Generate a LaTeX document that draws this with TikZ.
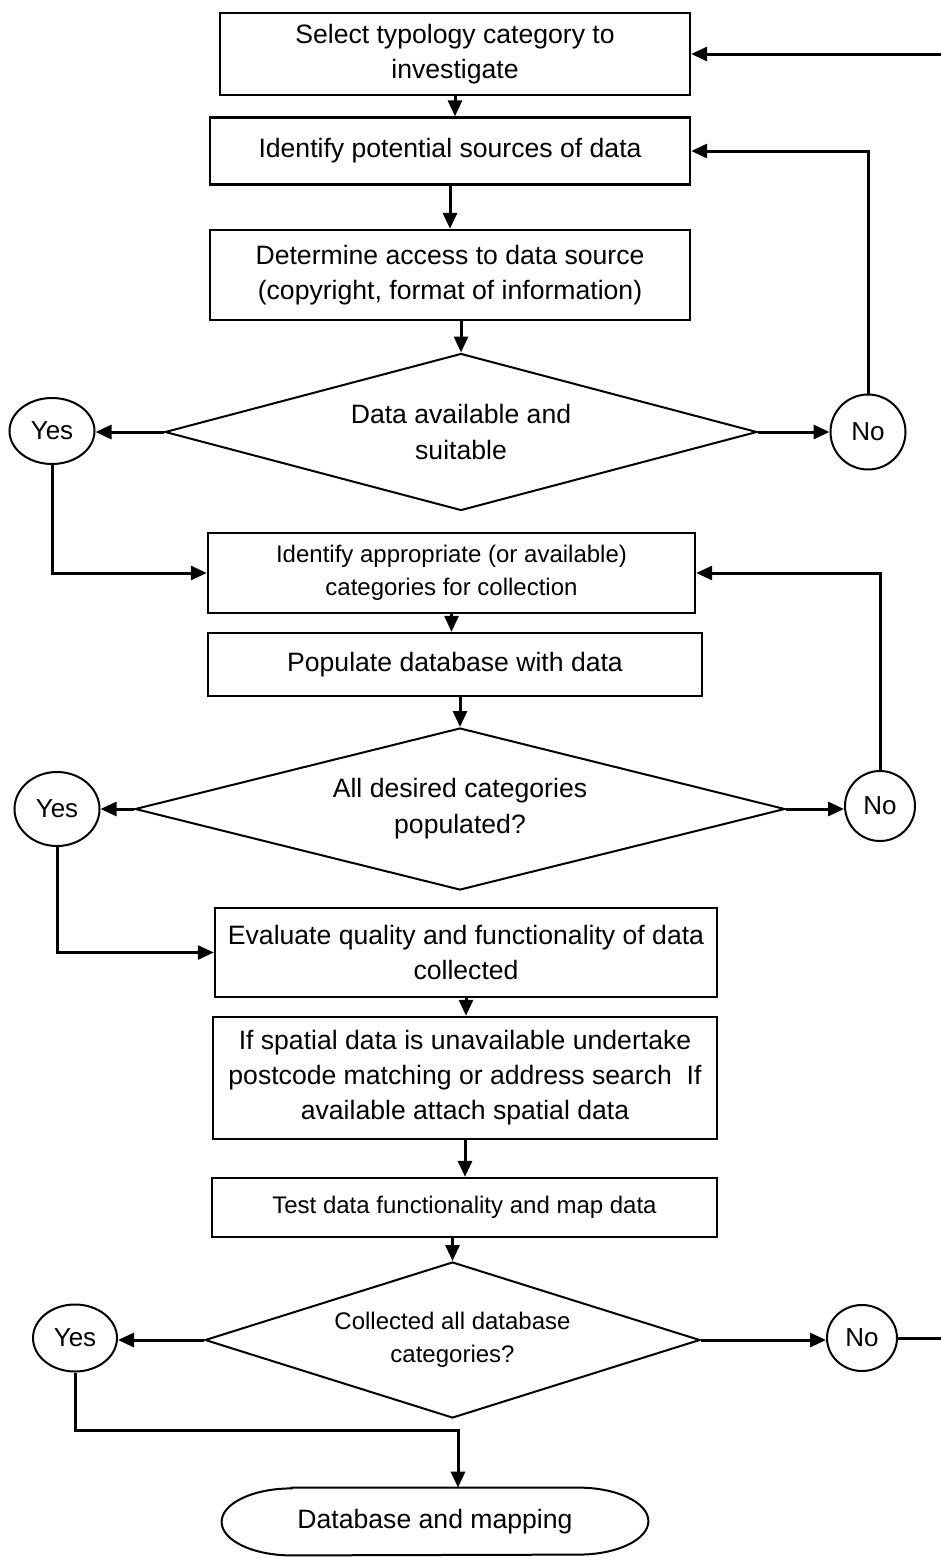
\documentclass[tikz,border=0pt]{standalone}
\usepackage{fontspec}
\setmainfont{Liberation Sans}
\usepackage{tikz}
\usetikzlibrary{arrows.meta, positioning, shapes.geometric}

\begin{document}
\begin{tikzpicture}[
    procbox/.style={shape=rectangle, draw, line width=1.2pt, inner sep=2pt, align=center, font=\fontsize{13.3}{17.5}\selectfont},
    smalltext/.style={font=\fontsize{12}{16.5}\selectfont},
    choice/.style={shape=diamond, draw, line width=1pt, inner sep=0pt, align=center, font=\fontsize{13.3}{18}\selectfont},
    reply/.style={shape=ellipse, draw, line width=1pt, inner sep=0pt, font=\fontsize{13}{15}\selectfont},
    flow/.style={draw, line width=1.5pt, -{Triangle[length=8pt, width=7pt]}}]

    \useasboundingbox (0pt, 0pt) rectangle (470.5pt, -779pt);
    \clip (0pt, 0pt) rectangle (470.5pt, -779pt);

    \node at (227.5pt, -27pt) (S1) [procbox, minimum width=235pt, minimum height=41pt] {Select typology category to\\investigate};
    \node at (225pt, -75.5pt) (S2) [procbox, minimum width=240pt, minimum height=33.5pt] {Identify potential sources of data};
    \node at (225pt, -137.5pt) (S3) [procbox, minimum width=240pt, minimum height=45pt] {Determine access to data source\\(copyright, format of information)};

    \node at (230.5pt, -216pt) (D1) [choice, aspect=3.8, minimum width=296pt, minimum height=78.5pt] {Data available and\\suitable};
    \node at (26pt, -215.5pt) (Y1) [reply, minimum width=42.5pt, minimum height=33pt] {Yes};
    \node at (434pt, -216pt) (N1) [reply, minimum width=37.5pt, minimum height=37.5pt] {No};

    \node at (225.75pt, -286.5pt) (S4) [procbox, smalltext, minimum width=243.5pt, minimum height=40pt] {Identify appropriate (or available)\\categories for collection};
    \node at (227.5pt, -332.25pt) (S5) [procbox, minimum width=247pt, minimum height=31.5pt] {Populate database with data};

    \node at (230pt, -404.5pt) (D2) [choice, aspect=4, minimum width=325pt, minimum height=81pt] {All desired categories\\populated?};
    \node at (28.5pt, -404.5pt) (Y2) [reply, minimum width=42.5pt, minimum height=37pt] {Yes};
    \node at (440pt, -403pt) (N2) [reply, minimum width=35pt, minimum height=35pt] {No};

    \node at (233pt, -476.25pt) (S6) [procbox, minimum width=251pt, minimum height=44.5pt] {Evaluate quality and functionality of data\\collected};
    \node at (232.5pt, -539pt) (S7) [procbox, minimum width=252pt, minimum height=61pt] {If spatial data is unavailable undertake\\postcode matching or address search~ If\\available attach spatial data};
    \node at (232.25pt, -603.75pt) (S8) [procbox, smalltext, minimum width=252.5pt, minimum height=29.5pt] {Test data functionality and map data};

    \node at (226.25pt, -670pt) (D3) [choice, smalltext, aspect=3.2, minimum width=247.5pt, minimum height=78pt] {Collected all database\\categories?};
    \node at (37.5pt, -669pt) (Y3) [reply, minimum width=42pt, minimum height=33.5pt] {Yes};
    \node at (431pt, -669pt) (N3) [reply, minimum width=35pt, minimum height=33pt] {No};

    \node at (217.5pt, -760.75pt) (DB) [minimum width=213pt, minimum height=33.5pt, font=\fontsize{13.3}{17.5}\selectfont] {Database and mapping};
    \draw[line width=1pt] ([xshift=35pt]DB.north west) -- ([xshift=-35pt]DB.north east)
        arc[start angle=90, end angle=-90, x radius=35pt, y radius=16.75pt]
        -- ([xshift=35pt]DB.south west)
        arc[start angle=270, end angle=90, x radius=35pt, y radius=16.75pt] -- cycle;

    \coordinate (R) at (476pt, -27pt);
    \coordinate (J) at (229pt, -715pt);

    % main line
    \path[flow] (S1.south) -- (S1.south |- S2.north);
    \path[flow] (S2.south) -- (S2.south |- S3.north);
    \path[flow] (D1.north |- S3.south) -- (D1.north);
    \path[flow] (S4.south) -- (S4.south |- S5.north);
    \path[flow] (D2.north |- S5.south) -- (D2.north);
    \path[flow] (S6.south) -- (S6.south |- S7.north);
    \path[flow] (S7.south) -- (S7.south |- S8.north);
    \path[flow] (D3.north |- S8.south) -- (D3.north);

    % answers
    \path[flow] (D1.west) -- (D1.west -| Y1.east);
    \path[flow] (D1.east) -- (D1.east -| N1.west);
    \path[flow] (D2.west) -- (D2.west -| Y2.east);
    \path[flow] (D2.east) -- (D2.east -| N2.west);
    \path[flow] (D3.west) -- (D3.west -| Y3.east);
    \path[flow] (D3.east) -- (D3.east -| N3.west);

    % loops back
    \path[flow] (N1.north) |- (S2.east);
    \path[flow] (Y1.south) |- (S4.west);
    \path[flow] (N2.north) |- (S4.east);
    \path[flow] (Y2.south) |- (S6.west);
    \path[flow] (N3.east) -| (R) -- (S1.east);
    \path[flow] (Y3.south) |- (J) -- (J |- DB.north);

\end{tikzpicture}
\end{document}
